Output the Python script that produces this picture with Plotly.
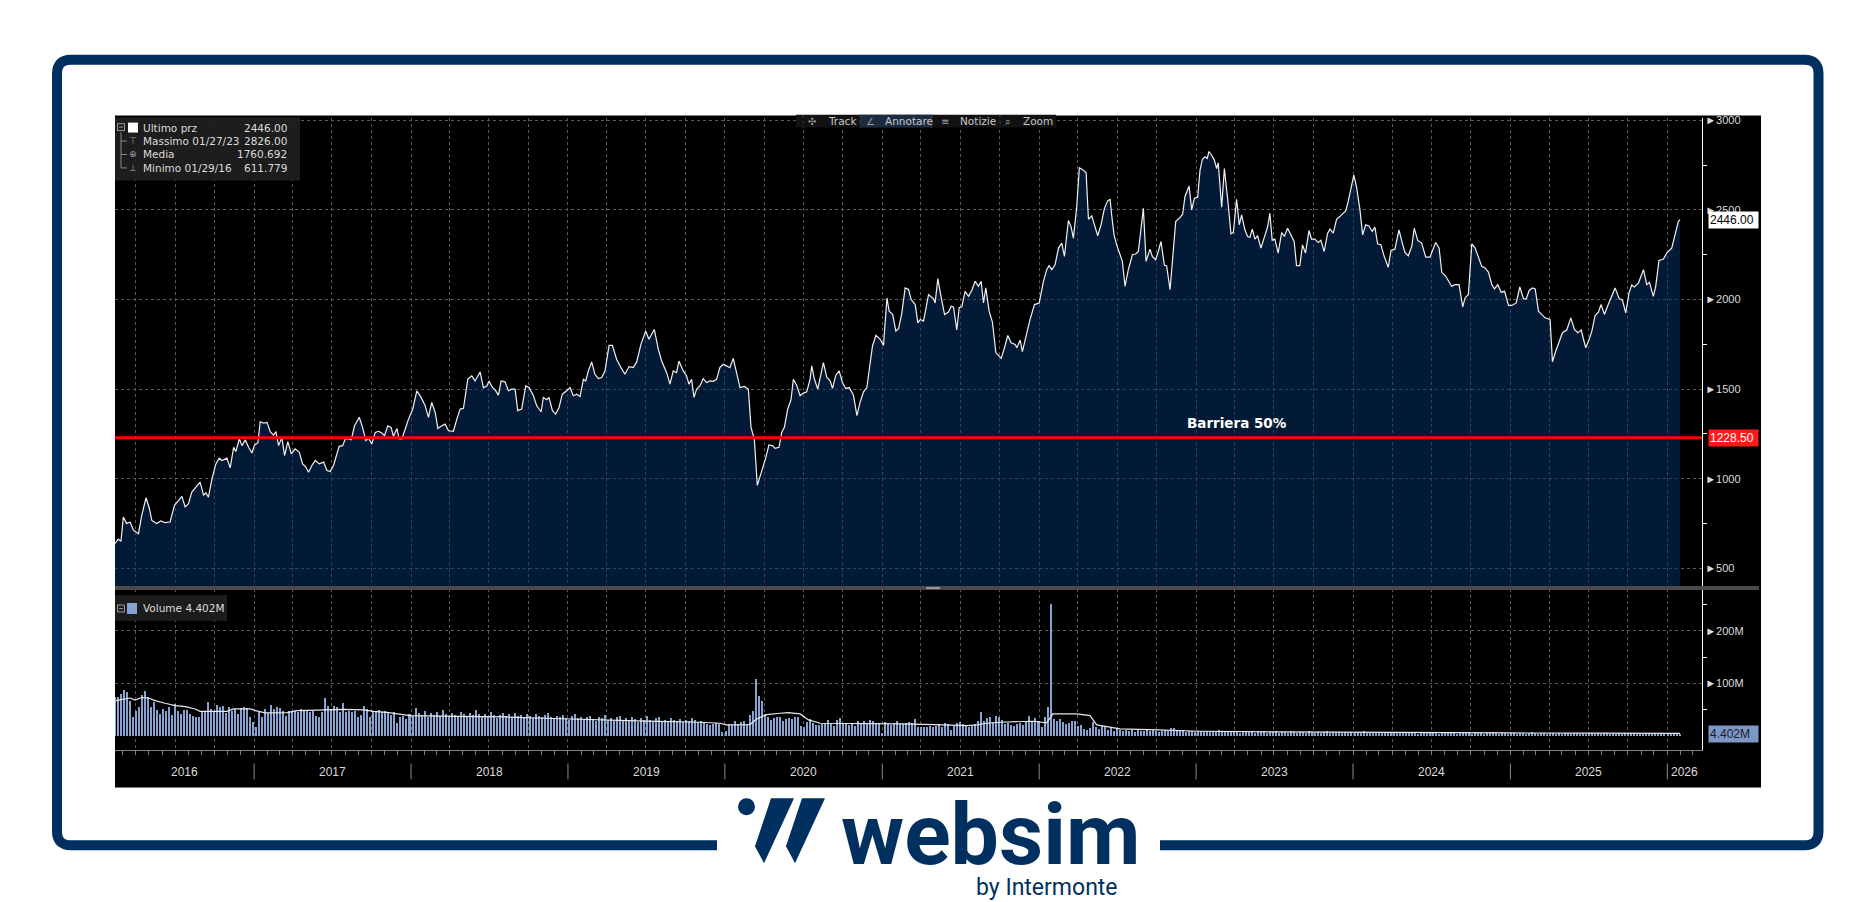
import plotly.graph_objects as go
import pandas as pd

W, H = 1876, 902
def px(x): return x / W
def py(y): return 1 - y / H

# ---------------- DATA ----------------
price_series = [
(2016.116,639),(2016.137,663),(2016.154,652),(2016.169,787),(2016.190,750),(2016.212,759),(2016.233,713),(2016.265,694),(2016.286,796),(2016.313,894),
(2016.335,833),(2016.350,768),(2016.381,750),(2016.407,765),(2016.434,755),(2016.466,759),(2016.494,852),(2016.519,880),(2016.541,902),(2016.562,843),
(2016.583,861),(2016.604,926),(2016.636,957),(2016.657,981),(2016.679,907),(2016.693,922),(2016.710,898),(2016.732,1000),(2016.757,1083),(2016.778,1115),
(2016.795,1102),(2016.827,1115),(2016.848,1061),(2016.870,1176),(2016.884,1152),(2016.906,1222),(2016.923,1185),(2016.944,1218),(2016.965,1176),(2016.986,1144),
(2017.003,1189),(2017.024,1200),(2017.039,1318),(2017.061,1311),(2017.082,1315),(2017.103,1263),(2017.124,1244),(2017.139,1263),(2017.156,1185),(2017.177,1231),
(2017.194,1130),(2017.215,1207),(2017.237,1139),(2017.262,1167),(2017.288,1148),(2017.309,1083),(2017.330,1065),(2017.347,1037),(2017.368,1074),(2017.390,1102),
(2017.415,1083),(2017.443,1093),(2017.464,1046),(2017.485,1041),(2017.506,1074),(2017.527,1139),(2017.542,1181),(2017.564,1185),(2017.581,1222),(2017.602,1222),
(2017.619,1218),(2017.640,1296),(2017.670,1343),(2017.691,1287),(2017.712,1213),(2017.729,1226),(2017.750,1194),(2017.772,1259),(2017.793,1265),(2017.814,1255),
(2017.831,1241),(2017.852,1296),(2017.873,1287),(2017.888,1237),(2017.910,1281),(2017.924,1222),(2017.941,1222),(2017.963,1278),(2017.984,1333),(2018.011,1389),
(2018.037,1491),(2018.064,1454),(2018.090,1407),(2018.111,1343),(2018.132,1426),(2018.154,1370),(2018.171,1281),(2018.196,1296),(2018.217,1305),(2018.239,1268),
(2018.270,1265),(2018.292,1333),(2018.313,1389),(2018.334,1393),(2018.362,1556),(2018.387,1574),(2018.408,1546),(2018.440,1596),(2018.461,1509),(2018.483,1518),
(2018.497,1546),(2018.519,1509),(2018.536,1496),(2018.557,1467),(2018.574,1546),(2018.599,1541),(2018.621,1491),(2018.642,1500),(2018.663,1500),
(2018.680,1380),(2018.705,1389),(2018.731,1518),(2018.752,1509),(2018.780,1463),(2018.801,1407),(2018.829,1374),(2018.843,1454),(2018.865,1441),(2018.879,1454),
(2018.901,1380),(2018.922,1361),(2018.943,1398),(2018.964,1472),(2018.992,1491),(2019.013,1509),(2019.034,1463),(2019.056,1472),(2019.077,1459),(2019.098,1555),
(2019.113,1546),(2019.130,1602),(2019.151,1652),(2019.172,1583),(2019.194,1559),(2019.215,1565),(2019.236,1602),(2019.262,1744),(2019.283,1744),(2019.310,1667),
(2019.338,1620),(2019.363,1583),(2019.389,1626),(2019.416,1620),(2019.438,1652),(2019.465,1750),(2019.495,1824),(2019.516,1778),(2019.550,1833),(2019.576,1722),
(2019.597,1657),(2019.629,1592),(2019.650,1528),(2019.671,1602),(2019.692,1592),(2019.707,1657),(2019.735,1602),(2019.756,1574),(2019.771,1528),(2019.788,1555),
(2019.803,1454),(2019.820,1500),(2019.841,1518),(2019.862,1559),(2019.883,1537),(2019.905,1546),(2019.926,1544),(2019.947,1555),(2019.968,1620),(2019.990,1639),
(2020.011,1630),(2020.032,1620),(2020.053,1672),(2020.074,1592),(2020.096,1509),(2020.123,1515),(2020.149,1500),(2020.166,1287),(2020.187,1222),(2020.206,963),
(2020.234,1041),(2020.259,1115),(2020.280,1189),(2020.302,1185),(2020.319,1170),(2020.344,1176),(2020.361,1259),(2020.378,1287),(2020.399,1389),(2020.420,1441),
(2020.435,1555),(2020.456,1522),(2020.478,1463),(2020.499,1478),(2020.520,1485),(2020.541,1555),(2020.552,1630),(2020.569,1555),(2020.590,1500),(2020.605,1570),
(2020.626,1648),(2020.648,1565),(2020.669,1546),(2020.684,1504),(2020.705,1578),(2020.726,1602),(2020.747,1537),(2020.768,1504),(2020.790,1509),(2020.817,1467),
(2020.839,1352),(2020.860,1430),(2020.881,1485),(2020.902,1509),(2020.923,1630),(2020.938,1741),(2020.960,1800),(2020.987,1778),(2021.008,1744),(2021.030,2009),
(2021.044,1935),(2021.066,1917),(2021.087,1824),(2021.104,1837),(2021.125,1926),(2021.146,2065),(2021.168,2056),(2021.184,2000),(2021.210,1972),
(2021.227,1870),(2021.242,1889),(2021.263,1880),(2021.295,2028),(2021.327,2004),(2021.337,1981),(2021.354,2117),(2021.376,2009),(2021.397,1917),(2021.422,1930),
(2021.439,1963),(2021.454,1959),(2021.475,1830),(2021.490,1954),(2021.507,1959),(2021.528,2046),(2021.550,2018),(2021.571,2052),(2021.592,2102),(2021.613,2074),
(2021.630,2102),(2021.645,1981),(2021.660,2065),(2021.681,1935),(2021.702,1874),(2021.724,1704),(2021.758,1672),(2021.779,1731),(2021.800,1800),(2021.821,1759),
(2021.847,1750),(2021.857,1731),(2021.879,1774),(2021.893,1709),(2021.921,1815),(2021.942,1889),(2021.970,1972),(2022.000,1981),(2022.027,2102),(2022.048,2167),
(2022.063,2189),(2022.080,2167),(2022.101,2194),(2022.123,2287),(2022.144,2315),(2022.161,2241),(2022.186,2441),(2022.203,2407),(2022.218,2343),(2022.239,2515),
(2022.256,2735),(2022.282,2722),(2022.299,2707),(2022.314,2448),(2022.335,2467),(2022.352,2417),(2022.373,2356),(2022.394,2417),(2022.416,2509),(2022.437,2552),
(2022.452,2559),(2022.462,2472),(2022.477,2361),(2022.494,2305),(2022.509,2263),(2022.530,2213),(2022.547,2074),(2022.568,2167),(2022.594,2250),(2022.615,2254),
(2022.632,2268),(2022.664,2509),(2022.681,2213),(2022.706,2281),(2022.721,2241),(2022.742,2222),(2022.759,2268),(2022.776,2324),(2022.798,2191),(2022.812,2189),
(2022.834,2055),(2022.855,2296),(2022.870,2435),(2022.897,2457),(2022.914,2476),(2022.929,2574),(2022.955,2633),(2022.972,2500),(2022.989,2565),(2023.010,2570),
(2023.025,2722),(2023.040,2783),(2023.057,2796),(2023.071,2787),(2023.082,2826),(2023.099,2805),(2023.116,2778),(2023.131,2731),(2023.141,2763),(2023.163,2515),
(2023.180,2731),(2023.205,2528),(2023.222,2367),(2023.237,2374),(2023.258,2559),(2023.275,2417),(2023.290,2472),(2023.311,2389),(2023.328,2352),(2023.343,2348),
(2023.358,2393),(2023.375,2337),(2023.392,2356),(2023.413,2287),(2023.434,2352),(2023.456,2407),(2023.470,2481),(2023.485,2330),(2023.502,2337),(2023.523,2259),
(2023.545,2374),(2023.562,2352),(2023.583,2398),(2023.604,2361),(2023.625,2324),(2023.640,2189),(2023.661,2189),(2023.678,2305),(2023.697,2259),(2023.719,2385),
(2023.736,2337),(2023.757,2337),
(2023.778,2318),(2023.795,2330),(2023.816,2268),(2023.838,2370),(2023.853,2393),(2023.874,2370),(2023.895,2448),(2023.916,2463),(2023.937,2481),(2023.954,2496),
(2023.969,2546),(2023.986,2620),(2024.005,2694),(2024.022,2630),(2024.044,2500),(2024.061,2361),(2024.080,2417),(2024.101,2411),(2024.122,2380),(2024.139,2404),
(2024.156,2311),(2024.177,2306),(2024.198,2241),(2024.224,2180),(2024.241,2274),(2024.266,2281),(2024.292,2389),(2024.313,2315),(2024.330,2263),(2024.351,2244),
(2024.373,2296),(2024.389,2398),(2024.411,2330),(2024.436,2315),(2024.462,2237),(2024.489,2237),(2024.525,2318),(2024.547,2287),(2024.564,2152),(2024.589,2130),
(2024.606,2102),(2024.627,2074),(2024.648,2083),(2024.674,2083),(2024.697,1959),(2024.712,2009),(2024.733,2028),(2024.755,2311),(2024.776,2287),(2024.797,2241),
(2024.818,2185),(2024.839,2176),(2024.861,2152),(2024.882,2083),(2024.899,2059),(2024.920,2083),(2024.941,2041),(2024.963,2046),(2024.988,1967),(2025.009,1967),
(2025.037,1981),(2025.060,2070),(2025.084,2004),(2025.101,2004),(2025.120,2052),(2025.141,2065),(2025.158,2059),(2025.179,1935),(2025.200,1917),(2025.221,1898),
(2025.253,1889),(2025.268,1652),(2025.289,1713),(2025.311,1768),(2025.332,1815),(2025.359,1830),(2025.385,1898),(2025.408,1833),(2025.430,1815),(2025.451,1830),
(2025.480,1731),(2025.502,1778),(2025.519,1824),(2025.540,1911),(2025.561,1930),(2025.578,1972),(2025.599,1917),(2025.621,1967),(2025.646,2018),(2025.667,2065),
(2025.693,2005),(2025.714,1996),(2025.735,1926),(2025.756,2037),(2025.773,2081),(2025.790,2070),(2025.816,2092),(2025.848,2167),(2025.869,2083),(2025.886,2096),
(2025.911,2018),(2025.926,2074),(2025.947,2218),(2025.975,2226),(2025.996,2259),(2026.028,2287),(2026.049,2361),(2026.070,2435),(2026.081,2446),
]

# weekly volume (millions), first week 2016-02-12
volume_start = "2016-02-12"
volume_m = [
# 2016-02 .. 2017-12
73.3,74.6,79.6,87.2,82.8,67,36.6,48,55.6,78.4,86,74.6,55.6,63.8,49.3,41.7,51.2,46.7,55.6,40.4,
60.7,48,41.7,49.3,49.3,41.7,38.5,36.6,35.4,46.7,44.8,65.1,51.2,44.8,58.8,54.3,57.5,43,54.3,46.7,
51.2,41.7,53.1,54.3,53.1,35.4,25.9,16.4,44.8,36.6,51.2,43,59.4,51.2,54.3,53.1,48,38.5,48,44.8,
46.7,44.8,51.2,46.7,49.3,44.8,48,38.5,36.6,44.8,72,57.5,51.2,57.5,55.6,44.8,61.9,44.8,46.7,44.8,
48,36.6,40.4,57.5,51.2,35.4,48,44.8,49.3,44.8,46.7,43,40.4,44.8,24,35.4,38.5,32.2,
# 2018-01 .. 2019-10
41,38,52,44,39,47,36,43,40,45,38,49,42,37,44,40,35,46,41,38,
43,39,50,41,36,42,38,45,40,34,39,43,37,41,35,44,38,40,36,42,
37,33,41,38,35,39,44,36,32,38,35,40,
34,31,37,42,33,36,30,35,38,32,29,36,33,40,31,34,28,35,37,30,
33,29,36,32,27,34,31,38,30,28,33,35,29,31,26,34,30,28,32,27,31,29,33,30,27,
# 2019-11 .. 2022-12
28,25.9,22,21.5,22.7,24,22.7,6.9,10,22.7,21.5,29,22.7,25.9,29,22.7,40.4,46.7,108,76.5,
65.7,41.7,36.6,30.3,34.1,35.4,35.4,29,32.2,34.1,32.2,36.6,35.4,19.5,17.6,25.9,32.2,24,21.5,21.5,
22.7,24,30.3,24,19.5,30.3,34.1,22.7,24,21.5,22.7,19.5,29,24,27.8,24,30.3,29,22.7,24,
5,25.9,22.7,21.5,22.7,29,22.7,22.7,24,25.9,24,32.2,16.4,16.4,17.6,17.6,19.5,17.6,19.5,22.7,
17.6,24,22.7,11.3,19.5,24,25.9,22.7,19.5,17.6,19.5,22.7,27.8,44.8,27.8,34.1,36.6,25.9,38.5,36.6,
30.3,22.7,24,21.5,19.5,22.7,24,21.5,29,38.5,27.8,34.1,27.8,17.6,35.4,55.6,250,32.2,29,32.2,
25.9,22.7,24,27.8,29,19.5,21.5,13.2,11.3,15.1,25.9,17.6,13.2,19.5,16.4,11.3,15.1,10,15.1,11.3,
10,12,9,11,8,13,10,9,11,10,12,9,8,10,11,9,15,14,10,9,11,8,10,9,8,10,
# 2023-01 .. 2024-04
9,8,10,7,9,8,11,7,8,9,7,10,8,6,9,8,7,9,6,8,
7,9,6,8,7,10,6,7,8,6,9,7,6,8,7,6,9,7,5,8,
6,7,9,6,7,5,8,6,7,6,8,5,7,6,9,6,5,7,6,8,5,6,7,5,6,7,5,
# 2024-05 .. 2026-01
6,5,7,5,6,4,7,5,6,5,8,5,4,6,5,7,5,6,4,5,
6,5,7,4,5,6,5,4,6,5,7,5,4,6,5,4,6,5,4,5,
6,4,5,7,5,4,6,5,4,5,6,4,5,4,6,5,4,5,6,4,
5,4,6,5,4,5,4,6,5,4,5,4,6,4,5,4,5,6,4,5,
4,5,6,4,5,4,5,4,5,4,5,4,4.4,
]

volume_avg_series = [
(2016.122,67),(2016.211,72),(2016.243,68),(2016.286,73),(2016.328,72),(2016.371,67),(2016.434,62),(2016.498,57.5),
(2016.562,55.6),(2016.625,51.2),(2016.657,46.7),(2016.721,46.7),(2016.827,46.7),(2016.869,51.2),(2016.975,51.2),
(2017.029,46.7),(2017.071,43.6),(2017.209,44.2),(2017.273,48),(2017.464,49.3),(2017.570,50.5),(2017.697,49.3),
(2017.761,46.7),(2017.846,44.8),(2017.909,41.7),(2017.994,38.5),(2018.3,37),(2018.6,36),(2018.9,33),(2019.2,30),
(2019.5,28),(2019.841,25.9),(2019.968,24),(2020.011,20.8),(2020.159,21.5),(2020.202,32.2),(2020.265,40.4),
(2020.350,43),(2020.403,44.2),(2020.478,41.7),(2020.531,30.3),(2020.605,24),(2020.902,24),(2021.114,22.7),
(2021.327,21.5),(2021.539,19.5),(2021.603,20.8),(2021.666,24),(2021.751,25.9),(2021.963,27.8),(2022.048,24.6),
(2022.087,41.7),(2022.239,41.7),(2022.324,38.5),(2022.367,20.8),(2022.452,16.4),(2022.515,13.2),(2022.749,11.3),
(2023.025,8.8),(2023.5,7.5),(2024.0,6.5),(2024.5,5.8),(2025.0,5.5),(2025.5,5.2),(2026.081,4.8),
]

years = [2016, 2017, 2018, 2019, 2020, 2021, 2022, 2023, 2024, 2025, 2026]
price_ticks = [500, 1000, 1500, 2000, 2500, 3000]
price_minor = [750, 1250, 1750, 2250, 2750]
vol_ticks = [100, 200]
vol_minor = [50, 150, 250]
last_price = 2446.00
barrier_level = 1228.50
last_volume = 4.402
legend_rows = [("Ultimo prz", "2446.00"), ("Massimo 01/27/23", "2826.00"),
               ("Media", "1760.692"), ("Minimo 01/29/16", "611.779")]
toolbar = [("\u2723", "Track"), ("\u2220", "Annotare"), ("\u2261", "Notizie"), ("\u2315", "Zoom")]

# ---------------- helpers ----------------
def dec_to_date(t):
    y = int(t)
    a = pd.Timestamp(y, 1, 1)
    b = pd.Timestamp(y + 1, 1, 1)
    return a + (b - a) * (t - y)

price_dates = [dec_to_date(t) for t, _ in price_series]
price_vals = [v for _, v in price_series]
vol_dates = pd.date_range(volume_start, periods=len(volume_m), freq="7D")
avg_dates = [dec_to_date(t) for t, _ in volume_avg_series]
avg_vals = [v for _, v in volume_avg_series]

x_range = [dec_to_date(2016.116), dec_to_date(2026.221)]

NAVY = "#00305f"
GRID = "#5a5a5a"
TXT = "#dcdcdc"
VOLC = "#87a3d3"

fig = go.Figure()
fig.add_trace(go.Scatter(x=price_dates, y=price_vals, mode="lines",
                         line=dict(color="#f0f0f0", width=1.2),
                         fill="tozeroy", fillcolor="rgba(6,52,108,0.5)",
                         xaxis="x", yaxis="y", hoverinfo="skip"))
fig.add_trace(go.Bar(x=vol_dates, y=volume_m, marker=dict(color=VOLC, line=dict(width=0)),
                     width=3.5 * 86400000, xaxis="x2", yaxis="y2", hoverinfo="skip"))
fig.add_trace(go.Scatter(x=avg_dates, y=avg_vals, mode="lines",
                         line=dict(color="#e8e8e8", width=1.2),
                         xaxis="x2", yaxis="y2", hoverinfo="skip"))

shapes = []
ann = []

def rect(x0, y0, x1, y1, fill, layer="above", line_color=None, lw=0):
    shapes.append(dict(type="rect", xref="paper", yref="paper",
                       x0=px(x0), x1=px(x1), y0=py(y1), y1=py(y0),
                       fillcolor=fill, line=dict(width=lw, color=line_color or fill), layer=layer))

def pline(x0, y0, x1, y1, color, w=1, dash=None):
    shapes.append(dict(type="line", xref="paper", yref="paper",
                       x0=px(x0), x1=px(x1), y0=py(y0), y1=py(y1),
                       line=dict(color=color, width=w, dash=dash), layer="above"))

def text(x, y, s, size=11, color=TXT, xanchor="left", family="DejaVu Sans", yanchor="middle", **kw):
    ann.append(dict(x=px(x), y=py(y), xref="paper", yref="paper", text=s, showarrow=False,
                    xanchor=xanchor, yanchor=yanchor, font=dict(size=size, color=color, family=family), **kw))

# black chart background
rect(115, 113, 1761, 787, "black", layer="below")

# outer frame (rounded, open at bottom for the logo)
r = 14
L, T, R, B = 57, 57, 1818.5, 845
path = (f"M {px(717)},{py(B)} L {px(L + r)},{py(B)} Q {px(L)},{py(B)} {px(L)},{py(B - r)} "
        f"L {px(L)},{py(T + r)} Q {px(L)},{py(T)} {px(L + r)},{py(T)} "
        f"L {px(R - r)},{py(T)} Q {px(R)},{py(T)} {px(R)},{py(T + r)} "
        f"L {px(R)},{py(B - r)} Q {px(R)},{py(B)} {px(R - r)},{py(B)} L {px(1160)},{py(B)}")
shapes.append(dict(type="path", xref="paper", yref="paper", path=path,
                   line=dict(color=NAVY, width=10), layer="above"))

# panel separator
rect(115, 585, 1759, 589, "#4a4a4a")
rect(926, 586, 940, 588, "#9a9a9a")

# barrier line
shapes.append(dict(type="line", xref="paper", yref="y", x0=px(115), x1=px(1702),
                   y0=barrier_level, y1=barrier_level, line=dict(color="#ff0000", width=3), layer="above"))

# year separators
for yv in years[1:]:
    shapes.append(dict(type="line", xref="x2", yref="paper", x0=f"{yv}-01-01", x1=f"{yv}-01-01",
                       y0=py(763), y1=py(779), line=dict(color="#8c8c8c", width=1)))

# year labels (centred on the visible part of each year)
for yv in years:
    a = max(pd.Timestamp(yv, 1, 1), x_range[0])
    b = min(pd.Timestamp(yv + 1, 1, 1), x_range[1])
    ann.append(dict(x=a + (b - a) / 2, y=py(772), xref="x2", yref="paper", text=str(yv),
                    showarrow=False, xanchor="center", yanchor="middle",
                    font=dict(size=12, color=TXT, family="Liberation Sans")))

# value labels on the right axis
def value_tag(yref, val, label, bg, fg):
    ann.append(dict(x=px(1708), y=val, xref="paper", yref=yref, text=label, showarrow=False,
                    xanchor="left", yanchor="middle", bgcolor=bg, borderpad=1,
                    font=dict(size=12, color=fg, family="Liberation Sans")))

value_tag("y", last_price, "2446.00 ", "white", "black")
value_tag("y", barrier_level, "1228.50 ", "#ff1a1a", "white")
value_tag("y2", last_volume, "4.402M  ", "#7b98c6", "#1b1b2b")

# top-left legend box
rect(115, 115, 300, 178, "rgba(32,32,32,0.92)")
rows_y = [125, 138.5, 152, 165.5]
pline(121, 130, 121, 165.5, "#8a8a8a")
for yy in rows_y[1:]:
    pline(121, yy, 127, yy, "#8a8a8a")
rect(117.5, 121, 124.5, 128, "rgba(0,0,0,0)", line_color="#9a9a9a", lw=1)
pline(119, 124.5, 123, 124.5, "#9a9a9a")
rect(128, 120, 138, 130, "white")
icons = ["", "\u22a4", "\u2295", "\u22a5"]
for (lab, val), yy, ic in zip(legend_rows, rows_y, icons):
    if ic:
        text(133, yy, ic, size=9, color="#a0a0a0", xanchor="center")
    text(141, yy, lab, size=10.5)
    text(289, yy, val, size=10.5, xanchor="right")

# volume legend
rect(115, 594, 227, 620, "rgba(30,30,30,0.95)")
rect(117.5, 604, 124.5, 611, "rgba(0,0,0,0)", line_color="#9a9a9a", lw=1)
pline(119, 607.5, 123, 607.5, "#9a9a9a")
rect(127, 602, 137, 613, VOLC)
text(141, 607.5, "Volume 4.402M", size=10.5)

# toolbar
rect(796, 112, 1056, 125, "#121212")
rect(860, 112, 932, 125, "#1c2b40")
tb_x = [(812, 826), (870, 883), (945, 958), (1008, 1021)]
for (ic, lab), (xi, xt) in zip(toolbar, tb_x):
    text(xi, 118.5, ic, size=10, color="#9a9a9a", xanchor="center")
    text(xt, 118.5, lab, size=10.5, color="#c8c8c8")
for xs in [803, 860, 932, 1000]:
    pline(xs, 112, xs, 125, "#444", dash="dot")

# barrier label
text(1237, 421, "<b>Barriera 50%</b>", size=13.5, color="white", xanchor="center")

# logo
shapes.append(dict(type="circle", xref="paper", yref="paper",
                   x0=px(738), x1=px(755), y0=py(815), y1=py(798),
                   fillcolor=NAVY, line=dict(width=0)))
for dx in (0, 31):
    p = (f"M {px(771 + dx)},{py(798)} L {px(794 + dx)},{py(798)} L {px(764 + dx)},{py(863)} "
         f"L {px(755 + dx)},{py(846)} Z")
    shapes.append(dict(type="path", xref="paper", yref="paper", path=p,
                       fillcolor=NAVY, line=dict(width=0)))
text(990, 834, "<b>websim</b>", size=86, color=NAVY, xanchor="center", family="Roboto")
text(1047, 887, "by Intermonte", size=23, color=NAVY, xanchor="center", family="Roboto")

axis_font = dict(size=11, color=TXT, family="Liberation Sans")
fig.update_layout(
    width=W, height=H, margin=dict(l=0, r=0, t=0, b=0),
    paper_bgcolor="white", plot_bgcolor="black", showlegend=False, bargap=0,
    shapes=shapes, annotations=ann,
    xaxis=dict(domain=[px(115), px(1702)], range=x_range, type="date", anchor="y",
               showticklabels=False, showgrid=True, gridcolor=GRID, griddash="dot", gridwidth=1,
               dtick="M3", tick0="2016-01-01", ticks="", zeroline=False, showline=False),
    yaxis=dict(domain=[py(586), py(115)], range=[396, 3015], side="right", anchor="x",
               showline=True, linecolor="white", linewidth=1,
               tickvals=price_ticks, ticktext=["\u25ba" + str(v) for v in price_ticks],
               tickfont=axis_font, ticks="", showgrid=True, gridcolor=GRID, griddash="dot",
               zeroline=False,
               minor=dict(tickvals=price_minor, ticks="outside", ticklen=4, tickcolor="white",
                          showgrid=False)),
    xaxis2=dict(domain=[px(115), px(1702)], range=x_range, type="date", anchor="y2", matches="x",
                showticklabels=False, showgrid=True, gridcolor=GRID, griddash="dot",
                dtick="M3", tick0="2016-01-01", ticks="outside", ticklen=4, tickcolor="#808080",
                showline=True, linecolor="#808080", linewidth=1, zeroline=False,
                minor=dict(dtick="M1", ticks="outside", ticklen=4, tickcolor="#808080",
                           showgrid=False)),
    yaxis2=dict(domain=[py(749), py(588)], range=[-26, 279.5], side="right", anchor="x2",
                showline=True, linecolor="white", linewidth=1,
                tickvals=vol_ticks, ticktext=["\u25ba" + str(v) + "M" for v in vol_ticks],
                tickfont=axis_font, ticks="", showgrid=True, gridcolor=GRID, griddash="dot",
                zeroline=False,
                minor=dict(tickvals=vol_minor, ticks="outside", ticklen=4, tickcolor="white",
                           showgrid=False)),
)

fig.write_html("out.html", config={"displayModeBar": False},
               post_script="document.body.style.margin='0';document.body.style.padding='0';"
                           "document.body.style.overflow='hidden';")
